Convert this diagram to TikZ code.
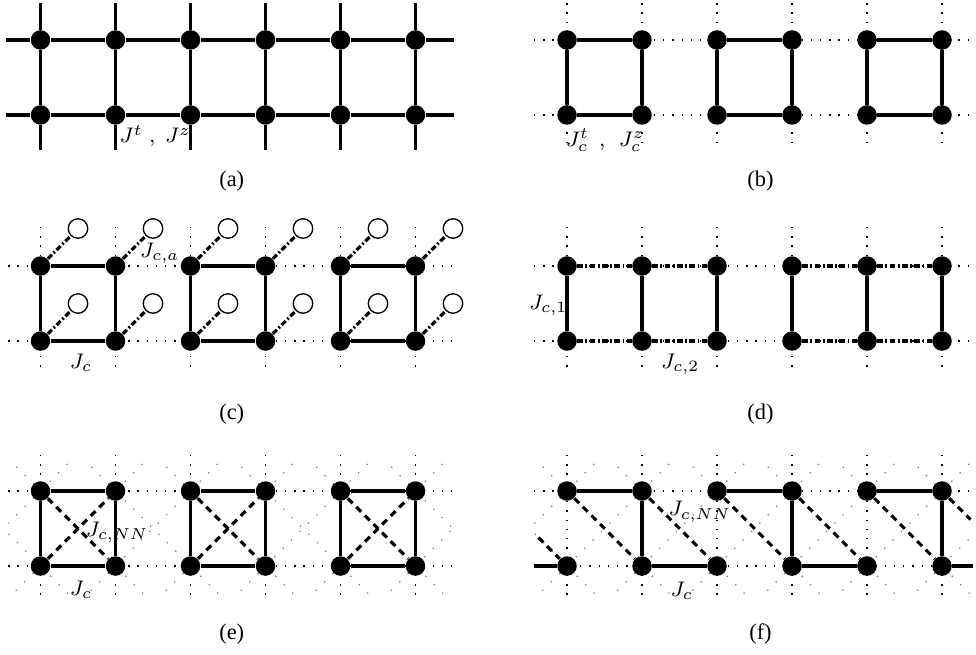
\documentclass[tikz,border=0pt]{standalone}
\usepackage{fontspec}
\setmainfont{Liberation Serif}
\usetikzlibrary{positioning}

\begin{document}
\begin{tikzpicture}[
    site/.style={circle, fill=black, inner sep=0pt, minimum size=2.6mm},
    ghost/.style={circle, draw, line width=0.5pt, fill=white, inner sep=0pt, minimum size=2.6mm},
    bond/.style={line width=1.2pt},
    nnbond/.style={line width=1.2pt, dash pattern=on 2.6pt off 2pt},
    chain/.style={line width=1.2pt, dash pattern=on 2.2pt off 0.9pt on 0.7pt off 0.9pt},
    latt/.style={line width=0.5pt, dash pattern=on 0.5pt off 3pt},
    diag/.style={line width=0.5pt, black!50, dash pattern=on 0.5pt off 4pt},
    lab/.style={font=\fontsize{8}{9}\selectfont, inner sep=0pt},
    panelcap/.style={font=\fontsize{8.5}{10}\selectfont}
]
\useasboundingbox (0,0) rectangle (13.0133,8.72);

% (a)
\begin{scope}[shift={(0.54,8.187)}]
\foreach \i in {0,...,5} {
  \node[site] (a-t\i) at (\i,0) {};
  \node[site] (a-b\i) at (\i,-1) {};
  \coordinate (a-u\i) at (\i,0.49);
  \coordinate (a-d\i) at (\i,-1.47);
  \draw[bond] (a-u\i) -- (a-t\i) -- (a-b\i) -- (a-d\i);
}
\coordinate (a-lt) at (-0.46,0);
\coordinate (a-rt) at (5.51,0);
\coordinate (a-lb) at (-0.46,-1);
\coordinate (a-rb) at (5.51,-1);
\draw[bond] (a-lt) -- (a-t0) -- (a-t1) -- (a-t2) -- (a-t3) -- (a-t4) -- (a-t5) -- (a-rt);
\draw[bond] (a-lb) -- (a-b0) -- (a-b1) -- (a-b2) -- (a-b3) -- (a-b4) -- (a-b5) -- (a-rb);
\node[lab] (a-lab) at (1.53,-1.28) {$J^t\;,\;J^z$};
\node[panelcap] (a-cap) at (2.55,-1.88) {(a)};
\end{scope}

% (b)
\begin{scope}[shift={(7.56,8.187)}]
\foreach \y in {0,-1} \draw[latt] (-0.44,\y) -- (5.41,\y);
\foreach \i in {0,...,5} \draw[latt] (\i,0.49) -- (\i,-1.45);
\foreach \i in {0,...,5} {
  \node[site] (b-t\i) at (\i,0) {};
  \node[site] (b-b\i) at (\i,-1) {};
}
\foreach \i/\j in {0/1,2/3,4/5}
  \draw[bond] (b-t\i) -- (b-t\j) -- (b-b\j) -- (b-b\i) -- (b-t\i);
\node[lab] (b-lab) at (0.51,-1.34) {$J_c^t\;\,,\;\,J_c^z$};
\node[panelcap] (b-cap) at (2.58,-1.88) {(b)};
\end{scope}

% (c)
\begin{scope}[shift={(0.54,5.173)}]
\foreach \y in {0,-1} \draw[latt] (-0.43,\y) -- (5.53,\y);
\foreach \i in {0,...,5} \draw[latt] (\i,0.52) -- (\i,-1.43);
\foreach \i in {0,...,5} {
  \node[site] (c-t\i) at (\i,0) {};
  \node[site] (c-b\i) at (\i,-1) {};
  \node[ghost] (c-gt\i) at (\i+0.5,0.5) {};
  \node[ghost] (c-gb\i) at (\i+0.5,-0.5) {};
  \draw[chain] (c-t\i) -- (c-gt\i);
  \draw[chain] (c-b\i) -- (c-gb\i);
}
\foreach \i/\j in {0/1,2/3,4/5}
  \draw[bond] (c-t\i) -- (c-t\j) -- (c-b\j) -- (c-b\i) -- (c-t\i);
\node[lab] (c-laba) at (1.59,0.17) {$J_{c,a}$};
\node[lab] (c-lab) at (0.54,-1.29) {$J_c$};
\node[panelcap] (c-cap) at (2.55,-1.98) {(c)};
\end{scope}

% (d)
\begin{scope}[shift={(7.56,5.173)}]
\foreach \y in {0,-1} \draw[latt] (-0.44,\y) -- (5.41,\y);
\foreach \i in {0,...,5} \draw[latt] (\i,0.52) -- (\i,-1.43);
\foreach \i in {0,...,5} {
  \node[site] (d-t\i) at (\i,0) {};
  \node[site] (d-b\i) at (\i,-1) {};
  \draw[bond] (d-t\i) -- (d-b\i);
}
\foreach \i/\j in {0/1,1/2,3/4,4/5} {
  \draw[chain] (d-t\i) -- (d-t\j);
  \draw[chain] (d-b\i) -- (d-b\j);
}
\node[lab] (d-lab1) at (-0.25,-0.53) {$J_{c,1}$};
\node[lab] (d-lab2) at (1.51,-1.31) {$J_{c,2}$};
\node[panelcap] (d-cap) at (2.58,-1.98) {(d)};
\end{scope}

% (e)
\begin{scope}[shift={(0.54,2.173)}]
\begin{scope}
\clip (-0.43,-1.4) rectangle (5.53,0.4);
\foreach \k in {-2,...,8} {
  \draw[diag] (\k-2,2) -- (\k+2,-2);
  \draw[diag] (\k-2,-2) -- (\k+2,2);
}
\end{scope}
\foreach \y in {0,-1} \draw[latt] (-0.43,\y) -- (5.53,\y);
\foreach \i in {0,...,5} \draw[latt] (\i,0.48) -- (\i,-1.45);
\foreach \i in {0,...,5} {
  \node[site] (e-t\i) at (\i,0) {};
  \node[site] (e-b\i) at (\i,-1) {};
}
\foreach \i/\j in {0/1,2/3,4/5} {
  \draw[bond] (e-t\i) -- (e-t\j) -- (e-b\j) -- (e-b\i) -- (e-t\i);
  \draw[nnbond] (e-t\i) -- (e-b\j);
  \draw[nnbond] (e-b\i) -- (e-t\j);
}
\node[lab] (e-labnn) at (1.02,-0.55) {$J_{c,NN}$};
\node[lab] (e-lab) at (0.54,-1.32) {$J_c$};
\node[panelcap] (e-cap) at (2.55,-1.91) {(e)};
\end{scope}

% (f)
\begin{scope}[shift={(7.56,2.173)}]
\begin{scope}
\clip (-0.44,-1.4) rectangle (5.41,0.4);
\foreach \k in {-2,...,8} {
  \draw[diag] (\k-2,2) -- (\k+2,-2);
  \draw[diag] (\k-2,-2) -- (\k+2,2);
}
\end{scope}
\foreach \y in {0,-1} \draw[latt] (-0.44,\y) -- (5.41,\y);
\foreach \i in {0,...,5} \draw[latt] (\i,0.48) -- (\i,-1.45);
\foreach \i in {0,...,5} {
  \node[site] (f-t\i) at (\i,0) {};
  \node[site] (f-b\i) at (\i,-1) {};
}
\coordinate (f-lb) at (-0.44,-1);
\coordinate (f-rb) at (5.41,-1);
\coordinate (f-in) at (-0.38,-0.62);
\coordinate (f-out) at (5.38,-0.38);
\foreach \i/\j in {0/1,2/3,4/5} \draw[bond] (f-t\i) -- (f-t\j) -- (f-b\j);
\foreach \i/\j in {1/2,3/4} \draw[bond] (f-b\i) -- (f-b\j);
\draw[bond] (f-lb) -- (f-b0);
\draw[bond] (f-b5) -- (f-rb);
\foreach \i/\j in {0/1,1/2,2/3,3/4,4/5} \draw[nnbond] (f-t\i) -- (f-b\j);
\draw[nnbond] (f-in) -- (f-b0);
\draw[nnbond] (f-t5) -- (f-out);
\node[lab] (f-labnn) at (1.77,-0.28) {$J_{c,NN}$};
\node[lab] (f-lab) at (1.53,-1.33) {$J_c$};
\node[panelcap] (f-cap) at (2.58,-1.91) {(f)};
\end{scope}
\end{tikzpicture}
\end{document}
